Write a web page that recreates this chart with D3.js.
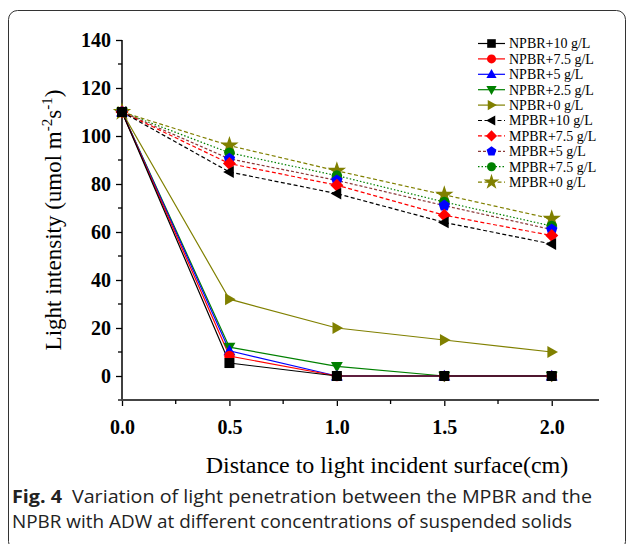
<!DOCTYPE html>
<html>
<head>
<meta charset="utf-8">
<script src="https://cdn.jsdelivr.net/npm/d3@7"></script>
<style>
  body { margin: 0; background: #fff; }
  svg { display: block; }
  .tick text { font-family: "Liberation Serif", "Times New Roman", serif; font-weight: bold; font-size: 20px; }
</style>
</head>
<body>
<svg id="chart" width="627" height="544"></svg>
<script>
// Set dimensions
var width = 627,
    height = 544;

// Data
var distances = [0, 0.5, 1.0, 1.5, 2.0];
var seriesNames = ["NPBR+10 g/L", "NPBR+7.5 g/L", "NPBR+5 g/L", "NPBR+2.5 g/L", "NPBR+0 g/L",
                   "MPBR+10 g/L", "MPBR+7.5 g/L", "MPBR+5 g/L", "MPBR+7.5 g/L", "MPBR+0 g/L"];
var npbr10  = [110, 5.4, 0, 0, 0];
var npbr75  = [110, 8.3, 0, 0, 0];
var npbr5   = [110, 10.5, 0, 0, 0];
var npbr25  = [110, 12, 4, 0, 0];
var npbr0   = [110, 32, 20, 15, 10];
var mpbr10  = [110, 85, 76, 64, 55];
var mpbr75  = [110, 88.5, 79.5, 67, 58.5];
var mpbr5   = [110, 90.5, 81.5, 71, 61];
var mpbr75b = [110, 93, 83.5, 72.5, 62.5];
var mpbr0   = [110, 96, 85.5, 75.5, 65.5];
var seriesValues = [npbr10, npbr75, npbr5, npbr25, npbr0, mpbr10, mpbr75, mpbr5, mpbr75b, mpbr0];
var yTicks = [0, 20, 40, 60, 80, 100, 120, 140];
var xTicks = [0, 0.5, 1.0, 1.5, 2.0];

// Styles per series
var lineColors   = ["#000000", "#ff0000", "#0000ff", "#008000", "#808000",
                    "#000000", "#ff0000", "#8b3a3a", "#008000", "#808000"];
var markerColors = ["#000000", "#ff0000", "#0000ff", "#008000", "#808000",
                    "#000000", "#ff0000", "#0000ff", "#008000", "#808000"];
var dashes = [null, null, null, null, null, "4,2.5", "4,2.5", "3,2", "1.5,2", "4,2.5"];
var shapes = ["square", "circle", "triUp", "triDown", "triRight",
              "triLeft", "diamond", "pentagon", "circle", "star"];

var svg = d3.select("#chart");

// Frame
svg.append("rect")
    .attr("x", 8.5).attr("y", 10.5)
    .attr("width", 617).attr("height", 540)
    .attr("rx", 9)
    .attr("fill", "none")
    .attr("stroke", "#333")
    .attr("stroke-width", 1);

// Scales
var x = d3.scaleLinear().domain([0, 2.22]).range([122, 599]);
var y = d3.scaleLinear().domain([-10, 140]).range([400, 40]);

function symbolPath(shape, r) {
    switch (shape) {
        case "square": return "M" + (-r) + "," + (-r) + "h" + 2 * r + "v" + 2 * r + "h" + (-2 * r) + "Z";
        case "circle": return d3.symbol(d3.symbolCircle, Math.PI * r * r * 1.1)();
        case "diamond": var d = r * 1.3; return "M0," + (-d) + "L" + d + ",0L0," + d + "L" + (-d) + ",0Z";
        case "star": return d3.symbol(d3.symbolStar, r * r * 4.2)();
        case "pentagon":
            var pts = d3.range(5).map(function(i) {
                var a = -Math.PI / 2 + i * 2 * Math.PI / 5;
                return [1.2 * r * Math.cos(a), 1.2 * r * Math.sin(a)];
            });
            return "M" + pts.join("L") + "Z";
        default:
            // triangle pointing up, rotated afterwards
            var t = r * 1.25;
            return "M0," + (-t) + "L" + (t * 0.95) + "," + (t * 0.7) + "L" + (-t * 0.95) + "," + (t * 0.7) + "Z";
    }
}
function symbolRotate(shape) {
    if (shape === "triDown") return 180;
    if (shape === "triRight") return 90;
    if (shape === "triLeft") return -90;
    return 0;
}

// Axes
var yAxis = d3.axisLeft(y).tickValues(yTicks).tickSize(6).tickPadding(5);
var gy = svg.append("g").attr("transform", "translate(" + x(0) + ",0)").call(yAxis);
gy.select(".domain").remove();
gy.append("line").attr("x1", 0).attr("x2", 0).attr("y1", y(140)).attr("y2", y(-10))
    .attr("stroke", "#000").attr("stroke-width", 1.5);
gy.selectAll(".tick line").attr("stroke-width", 1.3);
gy.selectAll(".tick text").attr("fill", "#000");
gy.selectAll(".minor").data([-10, 10, 30, 50, 70, 90, 110, 130]).enter().append("line")
    .attr("x1", -4).attr("x2", 0)
    .attr("y1", function(d) { return y(d); }).attr("y2", function(d) { return y(d); })
    .attr("stroke", "#000").attr("stroke-width", 1.3);

var xAxis = d3.axisBottom(x).tickValues(xTicks).tickFormat(d3.format(".1f")).tickSize(6).tickPadding(14);
var gx = svg.append("g").attr("transform", "translate(0," + y(-10) + ")").call(xAxis);
gx.select(".domain").remove();
gx.append("line").attr("x1", x(0) - 1).attr("x2", x(2.22)).attr("y1", 0).attr("y2", 0)
    .attr("stroke", "#444").attr("stroke-width", 2);
gx.selectAll(".tick line").attr("stroke-width", 1.3);
gx.selectAll(".tick text").attr("fill", "#000");
gx.selectAll(".minor").data([0.25, 0.75, 1.25, 1.75]).enter().append("line")
    .attr("y1", 0).attr("y2", 4)
    .attr("x1", function(d) { return x(d); }).attr("x2", function(d) { return x(d); })
    .attr("stroke", "#000").attr("stroke-width", 1.3);

// Lines and markers (drawn from last to first so NPBR sits on top)
var line = d3.line()
    .x(function(d, i) { return x(distances[i]); })
    .y(function(d) { return y(d); });

var order = [9, 8, 7, 6, 5, 4, 3, 2, 1, 0];
order.forEach(function(k) {
    svg.append("path")
        .attr("d", line(seriesValues[k]))
        .attr("fill", "none")
        .attr("stroke", lineColors[k])
        .attr("stroke-width", 1.2)
        .attr("stroke-dasharray", dashes[k]);
});
order.forEach(function(k) {
    svg.selectAll(".m" + k)
        .data(seriesValues[k])
        .enter().append("path")
        .attr("class", "m" + k)
        .attr("d", symbolPath(shapes[k], 5))
        .attr("transform", function(d, i) {
            return "translate(" + x(distances[i]) + "," + y(d) + ")rotate(" + symbolRotate(shapes[k]) + ")";
        })
        .attr("fill", markerColors[k]);
});

// Legend
var legend = svg.append("g").attr("transform", "translate(478,43.5)");
var legenditem = legend.selectAll(".legenditem")
    .data(d3.range(seriesNames.length))
    .enter().append("g")
    .attr("class", "legenditem")
    .attr("transform", function(d, i) { return "translate(0," + i * 15.4 + ")"; });
legenditem.append("line")
    .attr("x1", 0).attr("x2", 27).attr("y1", 0).attr("y2", 0)
    .attr("stroke", function(d) { return lineColors[d]; })
    .attr("stroke-width", 1.2)
    .attr("stroke-dasharray", function(d) { return dashes[d]; });
legenditem.append("path")
    .attr("d", function(d) { return symbolPath(shapes[d], 4.3); })
    .attr("transform", function(d) { return "translate(13.5,0)rotate(" + symbolRotate(shapes[d]) + ")"; })
    .attr("fill", function(d) { return markerColors[d]; });
legenditem.append("text")
    .attr("x", 31).attr("y", 4.8)
    .style("font-family", "'Liberation Serif', 'Times New Roman', serif")
    .style("font-size", "14px")
    .text(function(d) { return seriesNames[d]; });

// Axis titles
svg.append("text")
    .attr("x", 387).attr("y", 473)
    .attr("text-anchor", "middle")
    .style("font-family", "'Liberation Serif', 'Times New Roman', serif")
    .style("font-size", "24px")
    .text("Distance to light incident surface(cm)");

var ytitle = svg.append("text")
    .attr("transform", "translate(61,220)rotate(-90)")
    .attr("text-anchor", "middle")
    .style("font-family", "'Liberation Serif', 'Times New Roman', serif")
    .style("font-size", "23px");
ytitle.append("tspan").text("Light intensity (umol m");
ytitle.append("tspan").attr("dy", -9).style("font-size", "15px").text("-2");
ytitle.append("tspan").attr("dy", 9).text("s");
ytitle.append("tspan").attr("dy", -9).style("font-size", "15px").text("-1");
ytitle.append("tspan").attr("dy", 9).text(")");

// Caption
var cap1 = svg.append("text")
    .attr("x", 12).attr("y", 503)
    .attr("textLength", 580).attr("lengthAdjust", "spacingAndGlyphs")
    .style("font-family", "'Open Sans', 'Noto Sans', sans-serif")
    .style("font-size", "17.5px")
    .attr("fill", "#222");
cap1.append("tspan").style("font-weight", "bold").text("Fig. 4");
cap1.append("tspan").text("\u2002Variation of light penetration between the MPBR and the");
svg.append("text")
    .attr("x", 12).attr("y", 528)
    .attr("textLength", 560).attr("lengthAdjust", "spacingAndGlyphs")
    .style("font-family", "'Open Sans', 'Noto Sans', sans-serif")
    .style("font-size", "17.5px")
    .attr("fill", "#222")
    .text("NPBR with ADW at different concentrations of suspended solids");
</script>
</body>
</html>
